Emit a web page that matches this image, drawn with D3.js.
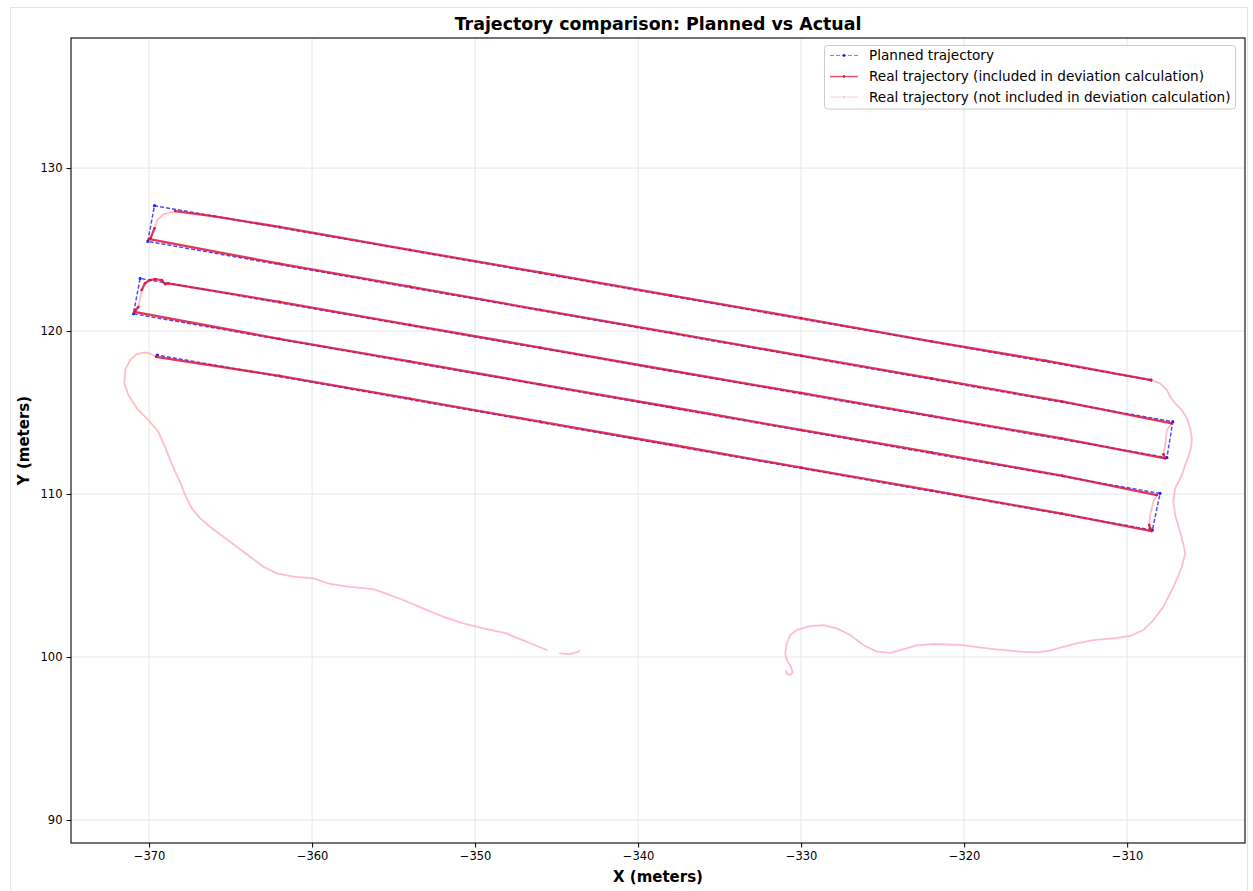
<!DOCTYPE html>
<html>
<head>
<meta charset="utf-8">
<script src="https://cdn.jsdelivr.net/npm/d3@7"></script>
<style>
  html, body { margin: 0; padding: 0; background: #fff; }
  svg { display: block; font-family: "DejaVu Sans", sans-serif; }
</style>
</head>
<body>
<svg id="chart" width="1253" height="891"></svg>
<script>
// ---------------- DATA ----------------
const titleText = "Trajectory comparison: Planned vs Actual";
const xLabel = "X (meters)";
const yLabel = "Y (meters)";
const xTicks = [-370, -360, -350, -340, -330, -320, -310];
const yTicks = [90, 100, 110, 120, 130];
const legendLabels = [
  "Planned trajectory",
  "Real trajectory (included in deviation calculation)",
  "Real trajectory (not included in deviation calculation)"
];

// Planned waypoints (lawnmower pattern)
const plannedX = [-308.53, -369.67, -370.08, -307.20, -307.56, -370.55, -370.96, -307.98, -308.45, -369.51];
const plannedY = [116.99, 127.69, 125.50, 114.44, 112.23, 123.23, 121.06, 110.04, 107.79, 118.53];

// Real trajectory, part NOT included in the deviation calculation (pink)
const realExcludedStart = [
  [-330.92, 99.16], [-330.88, 98.96], [-330.67, 98.90], [-330.51, 99.04], [-330.63, 99.40],
  [-330.88, 99.82], [-330.98, 100.23], [-330.88, 100.84], [-330.67, 101.35], [-330.26, 101.66],
  [-329.45, 101.90], [-328.63, 101.96], [-327.81, 101.76], [-326.99, 101.35], [-326.18, 100.74],
  [-325.36, 100.33], [-324.54, 100.26], [-323.93, 100.43], [-322.90, 100.72], [-321.88, 100.80],
  [-320.25, 100.74], [-318.20, 100.49], [-316.56, 100.33], [-315.54, 100.29], [-314.72, 100.39],
  [-313.91, 100.63], [-313.09, 100.84], [-312.07, 101.04], [-310.84, 101.15], [-309.82, 101.29],
  [-309.00, 101.66], [-308.39, 102.27], [-307.77, 103.09], [-307.16, 104.31], [-306.64, 105.54],
  [-306.44, 106.36], [-306.54, 106.87], [-306.75, 107.69], [-307.06, 108.71], [-307.16, 109.53],
  [-307.06, 110.35], [-306.64, 111.17], [-306.44, 111.78], [-306.24, 112.29], [-306.09, 112.80],
  [-306.03, 113.42], [-306.13, 114.03], [-306.34, 114.64], [-306.64, 115.15], [-307.06, 115.56],
  [-307.36, 115.97], [-307.56, 116.38], [-307.98, 116.79], [-308.53, 116.99]
];
const realExcludedTurn1 = [[-368.40, 127.36], [-369.12, 127.16], [-369.49, 126.81], [-369.67, 126.30]];
const realExcludedTurn2 = [[-307.26, 114.34], [-307.56, 113.93], [-307.67, 113.01], [-307.77, 112.44]];
const realExcludedTurn3 = [[-370.45, 122.52], [-370.55, 122.01], [-370.66, 121.47]];
const realExcludedTurn4 = [[-308.18, 109.94], [-308.39, 109.53], [-308.59, 108.71], [-308.65, 108.10]];
const realExcludedEnd = [
  [-369.57, 118.42], [-370.04, 118.67], [-370.36, 118.67], [-370.75, 118.59], [-371.17, 118.22],
  [-371.47, 117.61], [-371.52, 116.79], [-371.27, 116.07], [-370.75, 115.26], [-370.04, 114.54],
  [-369.43, 113.82], [-369.02, 112.90], [-368.71, 112.09], [-368.40, 111.37], [-368.10, 110.75],
  [-367.79, 109.94], [-367.38, 109.12], [-366.87, 108.51], [-366.26, 107.99], [-365.44, 107.38],
  [-364.62, 106.77], [-363.80, 106.15], [-362.99, 105.54], [-362.17, 105.13], [-361.15, 104.93],
  [-359.92, 104.83], [-358.90, 104.48], [-357.67, 104.31], [-356.24, 104.17], [-355.42, 103.87],
  [-354.40, 103.50], [-352.96, 102.88], [-351.94, 102.47], [-350.72, 102.07], [-349.49, 101.76],
  [-348.06, 101.45], [-347.65, 101.25], [-346.83, 100.94], [-345.60, 100.43]
];
const realExcludedTail = [[-344.79, 100.23], [-344.17, 100.18], [-343.66, 100.33], [-343.60, 100.39]];

// Real trajectory, part included in the deviation calculation (red)
const realIncludedLine1 = [
  [-308.53, 116.99], [-315, 118.18], [-322, 119.37], [-330, 120.80], [-338, 122.19],
  [-346, 123.60], [-354, 124.98], [-362, 126.39], [-366, 127.04], [-368.40, 127.36]
];
const realIncludedLine2 = [
  [-369.67, 126.30], [-369.90, 125.72], [-369.98, 125.64], [-362, 124.13], [-354, 122.73],
  [-346, 121.30], [-338, 119.91], [-330, 118.49], [-322, 117.10], [-314, 115.68], [-307.26, 114.34]
];
const realIncludedLine3 = [
  [-307.77, 112.44], [-307.67, 112.19], [-314, 113.41], [-322, 114.80], [-330, 116.20],
  [-338, 117.58], [-346, 118.99], [-354, 120.38], [-362, 121.79], [-368.82, 122.93],
  [-369.02, 122.88], [-369.22, 123.13], [-369.63, 123.19], [-369.94, 123.13], [-370.25, 122.93],
  [-370.45, 122.52]
];
const realIncludedLine4 = [
  [-370.66, 121.47], [-370.82, 121.29], [-370.90, 121.18], [-362, 119.52], [-354, 118.14],
  [-346, 116.73], [-338, 115.34], [-330, 113.93], [-322, 112.55], [-314, 111.13], [-308.18, 109.94]
];
const realIncludedLine5 = [
  [-308.65, 108.10], [-308.59, 107.90], [-308.49, 107.73], [-314, 108.80], [-322, 110.22],
  [-330, 111.62], [-338, 113.04], [-346, 114.44], [-354, 115.85], [-362, 117.25], [-369.57, 118.42]
];

const excludedSegments = [realExcludedStart, realExcludedTurn1, realExcludedTurn2, realExcludedTurn3,
  realExcludedTurn4, realExcludedEnd, realExcludedTail];
const includedSegments = [realIncludedLine1, realIncludedLine2, realIncludedLine3, realIncludedLine4, realIncludedLine5];

// ---------------- LAYOUT ----------------
const plot = { left: 71, right: 1245, top: 38, bottom: 843 };
const colors = {
  planned: "#0000ff",
  included: "#dc143c",
  excluded: "#ffb6c1",
  grid: "#e6e6e6"
};

const svg = d3.select("#chart");

// figure frame
svg.append("rect").attr("x", 10.5).attr("y", 7.5).attr("width", 1237).attr("height", 895)
  .attr("fill", "#fff").attr("stroke", "#e3e3e3").attr("stroke-width", 1);

const x = d3.scaleLinear().domain([-374.79, -302.77]).range([plot.left, plot.right]);
const y = d3.scaleLinear().domain([88.59, 137.98]).range([plot.bottom, plot.top]);

svg.append("defs").append("clipPath").attr("id", "clip")
  .append("rect").attr("x", plot.left).attr("y", plot.top)
  .attr("width", plot.right - plot.left).attr("height", plot.bottom - plot.top);

// grid
const grid = svg.append("g");
grid.selectAll(".gx").data(xTicks).join("line")
  .attr("x1", d => x(d)).attr("x2", d => x(d)).attr("y1", plot.top).attr("y2", plot.bottom)
  .attr("stroke", colors.grid).attr("stroke-width", 1);
grid.selectAll(".gy").data(yTicks).join("line")
  .attr("y1", d => y(d)).attr("y2", d => y(d)).attr("x1", plot.left).attr("x2", plot.right)
  .attr("stroke", colors.grid).attr("stroke-width", 1);

const fmt = d => (d < 0 ? "\u2212" + Math.abs(d) : String(d));

// axes
const xAxis = svg.append("g").attr("transform", `translate(0,${plot.bottom})`)
  .call(d3.axisBottom(x).tickValues(xTicks).tickFormat(fmt).tickSize(4.5).tickPadding(4).tickSizeOuter(0));
const yAxis = svg.append("g").attr("transform", `translate(${plot.left},0)`)
  .call(d3.axisLeft(y).tickValues(yTicks).tickFormat(fmt).tickSize(4.5).tickPadding(4).tickSizeOuter(0));
[xAxis, yAxis].forEach(g => {
  g.select(".domain").remove();
  g.selectAll("text").attr("font-family", "DejaVu Sans").attr("font-size", "11.5px").attr("fill", "#000");
  g.selectAll("line").attr("stroke", "#000").attr("stroke-width", 1);
});

// data layers
const layer = svg.append("g").attr("clip-path", "url(#clip)");
const line = d3.line().x(d => x(d[0])).y(d => y(d[1]));
const planned = plannedX.map((v, i) => [v, plannedY[i]]);

layer.append("path").datum(planned).attr("d", line).attr("fill", "none")
  .attr("stroke", colors.planned).attr("stroke-width", 1.5).attr("stroke-dasharray", "4,2")
  .attr("opacity", 0.7);
layer.selectAll(".pm").data(planned).join("circle")
  .attr("cx", d => x(d[0])).attr("cy", d => y(d[1])).attr("r", 1.6)
  .attr("fill", colors.planned).attr("opacity", 0.8);

excludedSegments.forEach(seg => {
  layer.append("path").datum(seg).attr("d", line).attr("fill", "none")
    .attr("stroke", colors.excluded).attr("stroke-width", 1.8).attr("opacity", 0.9)
    .attr("stroke-linejoin", "round").attr("stroke-linecap", "round");
});
includedSegments.forEach(seg => {
  layer.append("path").datum(seg).attr("d", line).attr("fill", "none")
    .attr("stroke", colors.included).attr("stroke-width", 2.3).attr("opacity", 0.85)
    .attr("stroke-linejoin", "round").attr("stroke-linecap", "round");
  layer.selectAll(null).data(seg).join("circle")
    .attr("cx", d => x(d[0])).attr("cy", d => y(d[1])).attr("r", 1.3)
    .attr("fill", colors.included).attr("opacity", 0.9);
});

// spines
svg.append("rect").attr("x", plot.left).attr("y", plot.top)
  .attr("width", plot.right - plot.left).attr("height", plot.bottom - plot.top)
  .attr("fill", "none").attr("stroke", "#000").attr("stroke-width", 1.1);

// title & labels
svg.append("text").attr("x", (plot.left + plot.right) / 2).attr("y", 30)
  .attr("text-anchor", "middle").attr("font-weight", "bold").attr("font-size", "17.4px")
  .text(titleText);
svg.append("text").attr("x", (plot.left + plot.right) / 2).attr("y", 882)
  .attr("text-anchor", "middle").attr("font-weight", "bold").attr("font-size", "15px")
  .text(xLabel);
svg.append("text").attr("transform", `translate(29,${(plot.top + plot.bottom) / 2}) rotate(-90)`)
  .attr("text-anchor", "middle").attr("font-weight", "bold").attr("font-size", "15px")
  .text(yLabel);

// legend
const lg = svg.append("g");
lg.append("rect").attr("x", 824.5).attr("y", 45.5).attr("width", 411).attr("height", 63.5)
  .attr("rx", 3).attr("fill", "#fff").attr("fill-opacity", 0.85)
  .attr("stroke", "#cccccc").attr("stroke-width", 1);
const legendStyles = [
  { color: colors.planned, width: 1.2, dash: "4,2", opacity: 0.5, marker: 1.4 },
  { color: colors.included, width: 1.4, dash: null, opacity: 0.75, marker: 1.3 },
  { color: colors.excluded, width: 1.2, dash: null, opacity: 0.6, marker: 1.0 }
];
const rowY = [55.5, 76.5, 97];
legendLabels.forEach((lab, i) => {
  const s = legendStyles[i];
  const g = lg.append("g");
  g.append("line").attr("x1", 830).attr("x2", 858).attr("y1", rowY[i]).attr("y2", rowY[i])
    .attr("stroke", s.color).attr("stroke-width", s.width).attr("opacity", s.opacity)
    .attr("stroke-dasharray", s.dash);
  g.append("circle").attr("cx", 844).attr("cy", rowY[i]).attr("r", s.marker)
    .attr("fill", s.color).attr("opacity", Math.min(1, s.opacity + 0.3));
  g.append("text").attr("x", 869).attr("y", rowY[i]).attr("dy", "0.35em")
    .attr("font-size", "13.6px").attr("fill", "#000").text(lab);
});
</script>
</body>
</html>
